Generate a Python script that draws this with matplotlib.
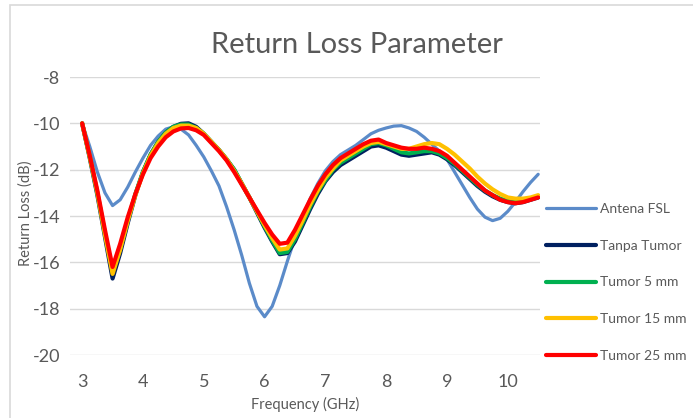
import matplotlib
matplotlib.use("Agg")
import matplotlib.pyplot as plt
from matplotlib.patches import Rectangle

plt.rcParams['font.family'] = ['Lato', 'DejaVu Sans']
plt.rcParams['axes.unicode_minus'] = False

freq = [3.0, 3.125, 3.25, 3.375, 3.5, 3.625, 3.75, 3.875, 4.0, 4.125, 4.25,
        4.375, 4.5, 4.625, 4.75, 4.875, 5.0, 5.125, 5.25, 5.375, 5.5, 5.625,
        5.75, 5.875, 6.0, 6.125, 6.25, 6.375, 6.5, 6.625, 6.75, 6.875, 7.0,
        7.125, 7.25, 7.375, 7.5, 7.625, 7.75, 7.875, 8.0, 8.125, 8.25, 8.375,
        8.5, 8.625, 8.75, 8.875, 9.0, 9.125, 9.25, 9.375, 9.5, 9.625, 9.75,
        9.875, 10.0, 10.125, 10.25, 10.375, 10.5]

antena_fsl = [-10.0, -11.0, -12.1, -13.0, -13.55, -13.3, -12.75, -12.1, -11.5,
              -10.95, -10.55, -10.25, -10.15, -10.25, -10.5, -10.95, -11.45,
              -12.05, -12.7, -13.6, -14.6, -15.7, -16.9, -17.9, -18.35, -17.9,
              -17.0, -15.95, -14.95, -14.05, -13.25, -12.6, -12.05, -11.65,
              -11.35, -11.15, -10.95, -10.7, -10.45, -10.3, -10.2, -10.12, -10.1,
              -10.2, -10.35, -10.6, -10.9, -11.2, -11.55, -12.1, -12.65, -13.2,
              -13.7, -14.05, -14.2, -14.1, -13.8, -13.4, -12.95, -12.55, -12.2]

tanpa_tumor = [-10.0, -11.5, -13.1, -14.9, -16.7, -15.6, -14.3, -13.1, -12.1,
               -11.35, -10.8, -10.4, -10.15, -10.02, -10.0, -10.15, -10.45, -10.8,
               -11.15, -11.55, -12.0, -12.6, -13.2, -13.85, -14.5, -15.1, -15.65,
               -15.6, -15.1, -14.4, -13.7, -13.05, -12.5, -12.1, -11.8, -11.6,
               -11.4, -11.2, -11.0, -10.95, -11.05, -11.2, -11.35, -11.4, -11.35,
               -11.3, -11.25, -11.35, -11.55, -11.8, -12.1, -12.4, -12.7, -12.95,
               -13.15, -13.3, -13.4, -13.45, -13.4, -13.3, -13.2]

tumor_5 = [-10.0, -11.45, -13.0, -14.75, -16.4, -15.4, -14.2, -13.05, -12.1,
           -11.35, -10.8, -10.4, -10.15, -10.05, -10.05, -10.2, -10.45, -10.8,
           -11.15, -11.55, -12.0, -12.6, -13.2, -13.8, -14.45, -15.05, -15.6,
           -15.55, -15.0, -14.3, -13.6, -12.95, -12.45, -12.0, -11.7, -11.5,
           -11.3, -11.1, -10.9, -10.85, -10.95, -11.1, -11.25, -11.3, -11.25,
           -11.2, -11.2, -11.3, -11.5, -11.75, -12.05, -12.35, -12.65, -12.9,
           -13.1, -13.25, -13.35, -13.4, -13.35, -13.25, -13.15]

tumor_15 = [-10.0, -11.45, -13.0, -14.8, -16.5, -15.45, -14.2, -13.1, -12.15,
            -11.4, -10.85, -10.45, -10.2, -10.1, -10.1, -10.2, -10.45, -10.8,
            -11.15, -11.55, -12.05, -12.6, -13.2, -13.8, -14.4, -14.95, -15.45,
            -15.4, -14.85, -14.2, -13.5, -12.9, -12.35, -11.95, -11.6, -11.4,
            -11.2, -11.0, -10.85, -10.8, -10.9, -11.0, -11.1, -11.1, -11.0,
            -10.9, -10.85, -10.9, -11.1, -11.35, -11.65, -11.95, -12.3, -12.6,
            -12.85, -13.05, -13.2, -13.25, -13.25, -13.2, -13.1]

tumor_25 = [-10.0, -11.4, -12.9, -14.6, -16.2, -15.2, -14.05, -13.05, -12.2,
            -11.5, -11.0, -10.6, -10.35, -10.22, -10.2, -10.3, -10.5, -10.85,
            -11.2, -11.6, -12.1, -12.65, -13.2, -13.75, -14.3, -14.8, -15.2,
            -15.15, -14.6, -13.95, -13.3, -12.7, -12.2, -11.8, -11.5, -11.3,
            -11.1, -10.9, -10.75, -10.7, -10.85, -10.95, -11.05, -11.1, -11.1,
            -11.05, -11.1, -11.2, -11.4, -11.7, -12.0, -12.3, -12.6, -12.9,
            -13.1, -13.3, -13.4, -13.45, -13.4, -13.3, -13.2]

x_ticks = [3, 4, 5, 6, 7, 8, 9, 10]
y_ticks = [-20, -18, -16, -14, -12, -10, -8]

gray = '#595959'

fig = plt.figure(figsize=(6.93, 4.18), dpi=100)
ax = fig.add_axes([70 / 693, 1 - 355 / 418, 470 / 693, 278 / 418])

# chart border like Excel
fig.patches.append(Rectangle((10 / 693, -0.05), 1.0, 1 - 5 / 418 + 0.05,
                             transform=fig.transFigure, fill=False,
                             edgecolor='#d9d9d9', linewidth=1.2))

line_kw = dict(solid_joinstyle='round', solid_capstyle='round')
ax.plot(freq, antena_fsl, color='#5b8bc9', linewidth=2.3, label='Antena FSL', **line_kw)
ax.plot(freq, tanpa_tumor, color='#002060', linewidth=3, label='Tanpa Tumor', **line_kw)
ax.plot(freq, tumor_5, color='#00b050', linewidth=3, label='Tumor 5 mm', **line_kw)
ax.plot(freq, tumor_15, color='#ffc000', linewidth=3, label='Tumor 15 mm', **line_kw)
ax.plot(freq, tumor_25, color='#ff0000', linewidth=3, label='Tumor 25 mm', **line_kw)

ax.set_xlim(2.8, 10.53)
ax.set_ylim(-20, -8)
ax.set_xticks(x_ticks)
ax.set_yticks(y_ticks)
ax.grid(axis='y', color='#d9d9d9', linewidth=1)
ax.set_axisbelow(True)
for s in ax.spines.values():
    s.set_visible(False)
ax.tick_params(length=0, labelsize=13, labelcolor=gray)
ax.tick_params(axis='x', pad=14)
ax.tick_params(axis='y', pad=7)

ax.set_xlabel("Frequency (GHz)", fontsize=10.5, color=gray, labelpad=5)
ax.set_ylabel("Return Loss (dB)", fontsize=10.5, color=gray)
ax.yaxis.set_label_coords(-0.079, 0.51)
fig.text(357 / 693, 1 - 53 / 418, "Return Loss Parameter", fontsize=21,
         color=gray, ha='center', va='baseline')

leg = ax.legend(loc='upper left', bbox_to_anchor=(546 / 693, 1 - 203 / 418),
                bbox_transform=fig.transFigure, frameon=False, fontsize=10,
                handlelength=3.6, handletextpad=0.3, labelspacing=1.78,
                borderaxespad=0, borderpad=0)
for t in leg.get_texts():
    t.set_color(gray)

fig.savefig("out.png", dpi=100)
